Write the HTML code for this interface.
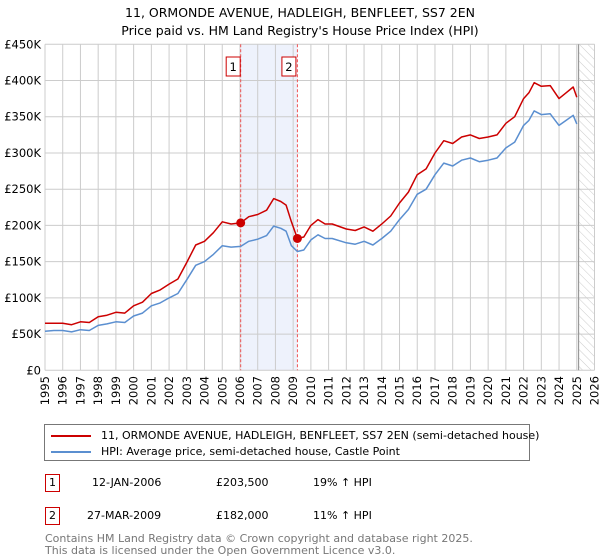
<!DOCTYPE html>
<html><head><meta charset="utf-8">
<style>
body{margin:0;background:#fff;font-family:"DejaVu Sans","Liberation Sans",sans-serif;}
#wrap{position:relative;width:600px;height:560px;overflow:hidden;}
</style></head>
<body>
<div id="wrap">
<svg id="chart" width="600" height="560" xmlns="http://www.w3.org/2000/svg" style="font-family:'DejaVu Sans','Liberation Sans',sans-serif">
<defs>
<pattern id="hatch" width="6" height="6" patternUnits="userSpaceOnUse" patternTransform="rotate(-45)">
<line x1="0" y1="0" x2="0" y2="6" stroke="#ccc" stroke-width="1"/>
</pattern>
</defs>
<text x="300" y="17" text-anchor="middle" font-size="12.5" fill="#000">11, ORMONDE AVENUE, HADLEIGH, BENFLEET, SS7 2EN</text>
<text x="300" y="35" text-anchor="middle" font-size="12.5" fill="#000">Price paid vs. HM Land Registry's House Price Index (HPI)</text>
<g id="grid"></g>
<g id="marks"></g>
<g id="axes"></g>
</svg>

<div style="position:absolute;left:44px;top:424px;width:486px;height:37px;border:1px solid #777;box-sizing:border-box;font-size:11px;">
 <div style="position:absolute;left:6px;top:4px;white-space:nowrap;"><span style="display:inline-block;width:40px;height:2px;background:#cc0000;vertical-align:middle;margin-right:10px;"></span>11, ORMONDE AVENUE, HADLEIGH, BENFLEET, SS7 2EN (semi-detached house)</div>
 <div style="position:absolute;left:6px;top:20px;white-space:nowrap;"><span style="display:inline-block;width:40px;height:2px;background:#5b8fd0;vertical-align:middle;margin-right:10px;"></span>HPI: Average price, semi-detached house, Castle Point</div>
</div>

<div style="position:absolute;left:0;top:0;font-size:11px;">
 <div style="position:absolute;left:45px;top:474px;width:15px;height:18px;border:1px solid #cc0000;box-sizing:border-box;text-align:center;line-height:16px;">1</div>
 <div style="position:absolute;left:92px;top:476px;white-space:nowrap;">12-JAN-2006</div>
 <div style="position:absolute;left:216px;top:476px;white-space:nowrap;">£203,500</div>
 <div style="position:absolute;left:313px;top:476px;white-space:nowrap;">19% ↑ HPI</div>
 <div style="position:absolute;left:45px;top:507px;width:15px;height:18px;border:1px solid #cc0000;box-sizing:border-box;text-align:center;line-height:16px;">2</div>
 <div style="position:absolute;left:87px;top:509px;white-space:nowrap;">27-MAR-2009</div>
 <div style="position:absolute;left:216px;top:509px;white-space:nowrap;">£182,000</div>
 <div style="position:absolute;left:313px;top:509px;white-space:nowrap;">11% ↑ HPI</div>
</div>
<div style="position:absolute;left:45px;top:533px;font-size:11px;color:#777;line-height:12px;">Contains HM Land Registry data © Crown copyright and database right 2025.<br>This data is licensed under the Open Government Licence v3.0.</div>
</div>

<script>
const years = [1995,1995.5,1996,1996.5,1997,1997.5,1998,1998.5,1999,1999.5,2000,2000.5,2001,2001.5,2002,2002.5,2003,2003.5,2004,2004.5,2005,2005.5,2006.04,2006.5,2007,2007.5,2007.9,2008.3,2008.6,2008.9,2009.24,2009.6,2010,2010.4,2010.8,2011.2,2012,2012.5,2013,2013.5,2014,2014.5,2015,2015.5,2016,2016.5,2017,2017.5,2018,2018.5,2019,2019.5,2020,2020.5,2021,2021.5,2022,2022.3,2022.6,2023,2023.5,2024,2024.4,2024.8,2025.0];
const hpiValues = [54,55,55,53,56,55,62,64,67,66,75,79,89,93,100,106,125,145,150,160,172,170,171,178,181,186,199,196,192,172,164,166,180,187,182,182,176,174,178,173,182,192,208,222,243,250,270,286,282,290,293,288,290,293,307,315,338,345,358,353,354,338,345,352,340];
const priceValues = [65,65,65,63,67,66,74,76,80,79,89,94,106,111,119,126,149,173,178,190,205,202,203.5,212,215,221,237,233,228,205,182,184,200,208,202,202,195,193,198,192,202,213,231,246,270,278,300,317,313,322,325,320,322,325,341,350,375,383,397,392,393,375,383,391,377];
const saleYears = [2006.04, 2009.24];
const salePrices = [203.5, 182];
const yTicks = [0,50,100,150,200,250,300,350,400,450];
const yTickLabels = ["£0","£50K","£100K","£150K","£200K","£250K","£300K","£350K","£400K","£450K"];
const xTicks = [1995,1996,1997,1998,1999,2000,2001,2002,2003,2004,2005,2006,2007,2008,2009,2010,2011,2012,2013,2014,2015,2016,2017,2018,2019,2020,2021,2022,2023,2024,2025,2026];

const X0=45, X1=594.5, Y0=370.3, Y1=44.3;
const xS = y => X0 + (y-1995)/(2026-1995)*(X1-X0);
const yS = v => Y0 - v/450*(Y0-Y1);
const NS="http://www.w3.org/2000/svg";
function mk(tag, attrs, parent){const e=document.createElementNS(NS,tag);for(const k in attrs)e.setAttribute(k,attrs[k]);parent.appendChild(e);return e;}
const grid=document.getElementById('grid'), marks=document.getElementById('marks'), axes=document.getElementById('axes');

let band=mk('rect',{x:xS(saleYears[0]),y:Y1,width:xS(saleYears[1])-xS(saleYears[0]),height:Y0-Y1,fill:'#eef2fc'},grid);


let hz=mk('rect',{x:xS(2025.1),y:Y1,width:X1-xS(2025.1),height:Y0-Y1,fill:'url(#hatch)'},grid);



yTicks.forEach((v,i)=>{
  let l=mk('line',{x1:X0,x2:X1,y1:yS(v),y2:yS(v),stroke:'#cccccc','stroke-width':1},grid);
  
  
  let t=mk('text',{x:X0-4,y:yS(v)+4,'text-anchor':'end','font-size':11.5,fill:'#000'},axes);
  t.textContent=yTickLabels[i];
  
  
});
xTicks.forEach(y=>{
  let l=mk('line',{x1:xS(y),x2:xS(y),y1:Y1,y2:Y0,stroke:'#cccccc','stroke-width':1},grid);
  
  
  const tx=xS(y)+4, ty=376;
  let t=mk('text',{x:tx,y:ty,'text-anchor':'end','font-size':11.5,fill:'#000',transform:'rotate(-90 '+tx+' '+ty+')'},axes);
  t.textContent=String(y);
  
  
});
let nowLine=mk('line',{x1:xS(2025.1),x2:xS(2025.1),y1:Y1,y2:Y0,stroke:'#999','stroke-width':1.2},grid);



saleYears.forEach((y,i)=>{
  let l=mk('line',{x1:xS(y),x2:xS(y),y1:Y1,y2:Y0,stroke:'#ee5555','stroke-width':1,'stroke-dasharray':'3,2'},marks);
  
  
  let r=mk('rect',{x:xS(y)-18+(i===0?4:3)-0.5,y:57,width:14,height:19,fill:'#fff',stroke:'#cc0000','stroke-width':1},marks);
  
  
  let t=mk('text',{x:xS(y)-18+(i===0?4:3)+6.5,y:71,'text-anchor':'middle','font-size':11.5,fill:'#000'},marks);
  t.textContent=String(i+1);
  
  
});

const pathOf = vals => years.map((y,i)=>(i?'L':'M')+xS(y).toFixed(1)+','+yS(vals[i]).toFixed(1)).join('');
let hp=mk('path',{d:pathOf(hpiValues),fill:'none',stroke:'#5b8fd0','stroke-width':1.5,'stroke-linejoin':'round'},marks);


let pp=mk('path',{d:pathOf(priceValues),fill:'none',stroke:'#cc0000','stroke-width':1.5,'stroke-linejoin':'round'},marks);


saleYears.forEach((y,i)=>{
  let c=mk('circle',{cx:xS(y),cy:yS(salePrices[i]),r:4.5,fill:'#cc0000'},marks);
  
  
});
</script>
</body></html>
